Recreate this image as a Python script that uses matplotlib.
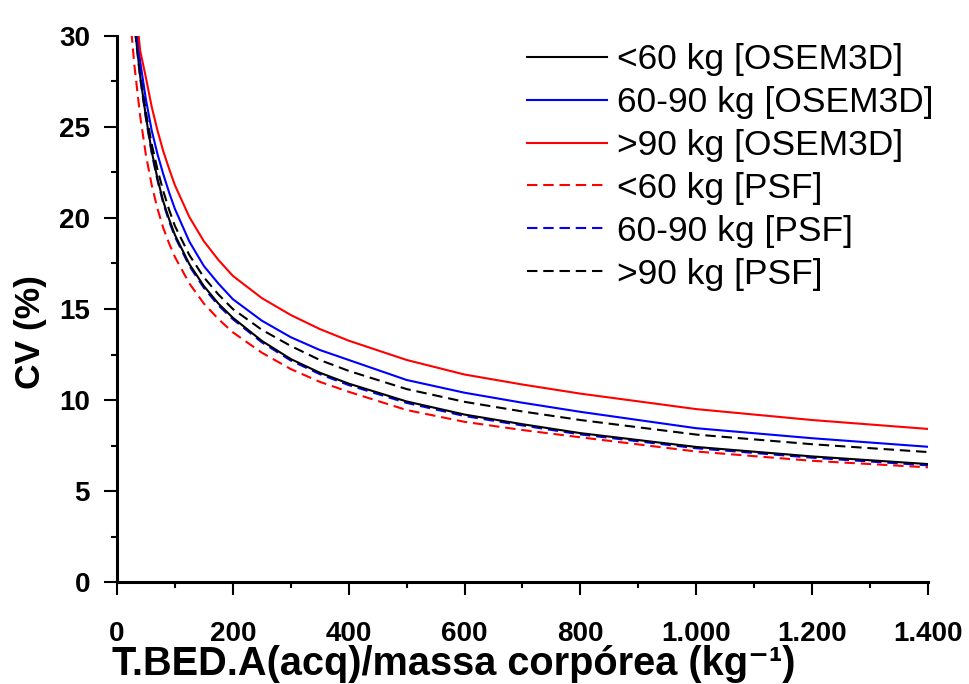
import numpy as np
import matplotlib
matplotlib.use("Agg")
from matplotlib import pyplot as plt
from matplotlib.ticker import MultipleLocator

plt.rc('font', family=['Liberation Sans', 'DejaVu Sans'])

# activity/weight values (kg^-1) at which the CV curves were read
x_vals = [25, 30, 40, 50, 60, 70, 80, 90, 100, 125, 150, 175, 200, 250, 300,
          350, 400, 500, 600, 700, 800, 1000, 1200, 1400]

# CV (%) for each weight class and reconstruction
cv_lt60_osem = [32.8, 30.7, 27.8, 25.55, 23.66, 22.15, 20.9, 19.93, 19.07, 17.46,
                16.26, 15.3, 14.52, 13.25, 12.25, 11.5, 10.9, 9.92, 9.2, 8.67,
                8.18, 7.42, 6.9, 6.48]
cv_60_90_osem = [33.5, 31.5, 28.6, 26.5, 24.8, 23.5, 22.4, 21.4, 20.5, 18.7,
                 17.36, 16.4, 15.54, 14.36, 13.45, 12.75, 12.2, 11.1, 10.4, 9.85,
                 9.35, 8.45, 7.9, 7.43]
cv_gt90_osem = [34.2, 32.3, 29.2, 27.7, 26.1, 24.8, 23.66, 22.7, 21.8, 20.05,
                18.72, 17.7, 16.82, 15.6, 14.67, 13.9, 13.26, 12.2, 11.4, 10.85,
                10.35, 9.5, 8.9, 8.41]
cv_lt60_psf = [30.2, 28.4, 25.6, 23.45, 21.8, 20.5, 19.44, 18.6, 17.86, 16.4,
               15.3, 14.45, 13.72, 12.6, 11.7, 11.0, 10.45, 9.45, 8.8, 8.35,
               7.95, 7.17, 6.66, 6.3]
cv_60_90_psf = [32.7, 30.6, 27.7, 25.45, 23.55, 22.05, 20.8, 19.82, 18.97, 17.36,
                16.16, 15.2, 14.44, 13.17, 12.17, 11.42, 10.82, 9.84, 9.12, 8.6,
                8.11, 7.35, 6.83, 6.41]
cv_gt90_psf = [33.2, 31.1, 28.05, 25.8, 24.05, 22.65, 21.47, 20.45, 19.56, 17.96,
               16.74, 15.8, 15.0, 13.86, 12.97, 12.2, 11.6, 10.6, 9.9, 9.37,
               8.9, 8.1, 7.57, 7.14]

labels = ["<60 kg [OSEM3D]", "60-90 kg [OSEM3D]", ">90 kg [OSEM3D]",
          "<60 kg [PSF]", "60-90 kg [PSF]", ">90 kg [PSF]"]
xtick_vals = [0, 200, 400, 600, 800, 1000, 1200, 1400]
xtick_labels = ["0", "200", "400", "600", "800", "1.000", "1.200", "1.400"]
ytick_vals = [0, 5, 10, 15, 20, 25, 30]

fig = plt.figure(figsize=(9.7, 6.84), dpi=100)
ax = fig.add_axes([0.1206, 0.1491, 0.8361, 0.7983])

dash = (0, (5, 2.8))
lw = 1.5
# dashed curves first so the solid ones sit on top
h4, = ax.plot(x_vals, cv_lt60_psf, color='#ff0000', lw=lw, linestyle=dash, label=labels[3])
h5, = ax.plot(x_vals, cv_60_90_psf, color='#0000ff', lw=lw, linestyle=dash, label=labels[4])
h6, = ax.plot(x_vals, cv_gt90_psf, color='black', lw=lw, linestyle=dash, label=labels[5])
h1, = ax.plot(x_vals, cv_lt60_osem, color='black', lw=lw, label=labels[0])
h2, = ax.plot(x_vals, cv_60_90_osem, color='#0000ff', lw=lw, label=labels[1])
h3, = ax.plot(x_vals, cv_gt90_osem, color='#ff0000', lw=lw, label=labels[2])

ax.set_xlim(0, 1400)
ax.set_ylim(0, 30)
ax.spines['top'].set_visible(False)
ax.spines['right'].set_visible(False)
ax.spines['left'].set_linewidth(2.2)
ax.spines['bottom'].set_linewidth(2.2)

ax.set_xticks(xtick_vals)
ax.set_xticklabels(xtick_labels)
ax.set_yticks(ytick_vals)
ax.xaxis.set_minor_locator(MultipleLocator(100))
ax.yaxis.set_minor_locator(MultipleLocator(2.5))
ax.tick_params(which='major', direction='out', length=9.4, width=1.5, labelsize=20)
ax.tick_params(which='minor', direction='out', length=4.5, width=1.5)
ax.tick_params(axis='x', which='major', pad=19)
ax.tick_params(axis='y', which='major', pad=10)
for t in ax.get_xticklabels() + ax.get_yticklabels():
    t.set_fontweight('bold')

ax.set_xlabel("T.BED.A(acq)/massa corpórea (kg\u207b\u00b9)",
              fontsize=28.6, fontweight='bold', va='baseline')
ax.xaxis.set_label_coords(0.4155, -0.1703)
ax.set_ylabel("CV (%)", fontsize=25.5, fontweight='bold', va='center')
ax.yaxis.set_label_coords(-0.107, 0.458)

ax.legend(handles=[h1, h2, h3, h4, h5, h6], loc='upper left', frameon=False,
          fontsize=25.5, handlelength=2.26, handletextpad=0.28, labelspacing=0.28,
          borderpad=0.0, borderaxespad=0.0, bbox_to_anchor=(0.5055, 0.987))

fig.savefig("out.png", dpi=100)
